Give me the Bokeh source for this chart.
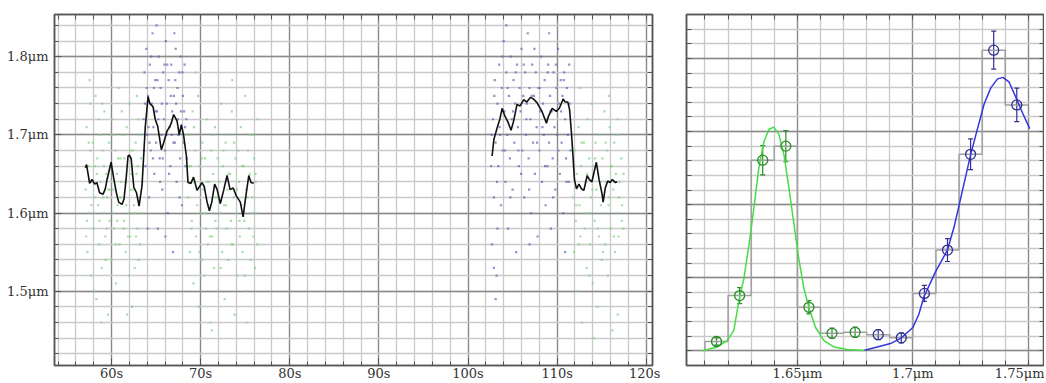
from bokeh.plotting import figure
from bokeh.layouts import row
from bokeh.models import FixedTicker, LinearAxis, Range1d, Whisker, ColumnDataSource, TeeHead
from bokeh.embed import file_html
from bokeh.resources import INLINE

# ---------------- data: left panel (time series) ----------------
x_tick_values = [60, 70, 80, 90, 100, 110, 120]
x_tick_labels = ["60s", "70s", "80s", "90s", "100s", "110s", "120s"]
y_tick_values = [1.5, 1.6, 1.7, 1.8]
y_tick_labels = ["1.5\u03bcm", "1.6\u03bcm", "1.7\u03bcm", "1.8\u03bcm"]

green1_t = [57.1, 57.2, 57.3, 57.4, 57.5, 57.6, 57.7, 57.8, 57.9, 58.0, 58.1, 58.2, 58.3, 58.4, 58.5, 58.6, 58.7, 58.8, 58.9, 59.0,
            59.1, 59.2, 59.3, 59.4, 59.5, 59.6, 59.7, 59.8, 59.9, 60.0, 60.1, 60.2, 60.3, 60.4, 60.5, 60.6, 60.7, 60.8, 60.9, 61.0,
            61.1, 61.2, 61.3, 61.4, 61.5, 61.6, 61.7, 61.8, 61.9, 62.0, 62.1, 62.2, 62.3, 62.4, 62.5, 62.6, 62.7, 62.8, 62.9, 63.0,
            63.1, 63.2, 63.3, 63.4, 57.25, 57.65, 58.15, 58.55, 59.05, 59.45, 59.85, 60.25, 60.65, 61.05, 61.45, 61.85, 62.25, 62.65, 63.05,
            57.15, 57.45, 57.75, 58.05, 58.35, 58.65, 58.95, 59.15, 59.35, 59.65, 59.95, 60.15, 60.45, 60.75, 60.95, 61.15, 61.35,
            61.65, 61.95, 62.15, 62.45, 62.75, 62.95, 63.25, 63.45, 57.55, 58.85, 60.05, 61.75, 62.85]
green1_v = [1.63, 1.71, 1.55, 1.66, 1.60, 1.74, 1.52, 1.64, 1.69, 1.58, 1.62, 1.75, 1.49, 1.67, 1.61, 1.56, 1.70, 1.64, 1.53, 1.68,
            1.60, 1.73, 1.57, 1.65, 1.62, 1.47, 1.69, 1.59, 1.66, 1.54, 1.72, 1.63, 1.58, 1.68, 1.51, 1.65, 1.61, 1.76, 1.56, 1.67,
            1.62, 1.50, 1.70, 1.59, 1.64, 1.55, 1.71, 1.66, 1.60, 1.74, 1.57, 1.63, 1.48, 1.68, 1.61, 1.53, 1.69, 1.65, 1.58, 1.72,
            1.62, 1.56, 1.67, 1.60, 1.59, 1.68, 1.66, 1.72, 1.62, 1.58, 1.63, 1.70, 1.59, 1.64, 1.67, 1.57, 1.65, 1.60, 1.54,
            1.57, 1.69, 1.61, 1.50, 1.65, 1.59, 1.74, 1.66, 1.54, 1.63, 1.70, 1.60, 1.56, 1.67, 1.62, 1.73, 1.58,
            1.61, 1.52, 1.68, 1.63, 1.57, 1.66, 1.70, 1.64, 1.77, 1.46, 1.78, 1.47, 1.75]

blue1_t = [63.6, 63.7, 63.8, 63.9, 64.0, 64.1, 64.2, 64.3, 64.4, 64.5, 64.6, 64.7, 64.8, 64.9, 65.0, 65.1, 65.2, 65.3, 65.4, 65.5,
           65.6, 65.7, 65.8, 65.9, 66.0, 66.1, 66.2, 66.3, 66.4, 66.5, 66.6, 66.7, 66.8, 66.9, 67.0, 67.1, 67.2, 67.3, 67.4, 67.5,
           67.6, 67.7, 67.8, 67.9, 68.0, 68.1, 68.2, 68.3, 68.4, 63.75, 64.25, 64.75, 65.25, 65.75, 66.25, 66.75, 67.25, 67.75, 68.25,
           63.65, 63.95, 64.15, 64.45, 64.65, 64.95, 65.15, 65.45, 65.65, 65.95, 66.15, 66.45, 66.65, 66.95, 67.15, 67.45,
           67.65, 67.95, 68.15, 68.45, 64.05, 65.05, 66.05, 67.05]
blue1_v = [1.72, 1.78, 1.66, 1.81, 1.70, 1.75, 1.62, 1.79, 1.68, 1.74, 1.83, 1.71, 1.65, 1.77, 1.69, 1.73, 1.58, 1.80, 1.67, 1.76,
           1.70, 1.63, 1.78, 1.72, 1.68, 1.82, 1.74, 1.60, 1.77, 1.71, 1.66, 1.79, 1.73, 1.55, 1.75, 1.69, 1.81, 1.64, 1.76, 1.70,
           1.78, 1.67, 1.73, 1.61, 1.75, 1.69, 1.79, 1.66, 1.72, 1.74, 1.69, 1.76, 1.72, 1.67, 1.79, 1.70, 1.74, 1.80, 1.71,
           1.68, 1.76, 1.71, 1.80, 1.67, 1.73, 1.77, 1.64, 1.74, 1.79, 1.70, 1.65, 1.75, 1.69, 1.77, 1.72,
           1.62, 1.78, 1.73, 1.67, 1.58, 1.84, 1.57, 1.83]

green2_t = [68.6, 68.7, 68.8, 68.9, 69.0, 69.1, 69.2, 69.3, 69.4, 69.5, 69.6, 69.7, 69.8, 69.9, 70.0, 70.1, 70.2, 70.3, 70.4, 70.5,
            70.6, 70.7, 70.8, 70.9, 71.0, 71.1, 71.2, 71.3, 71.4, 71.5, 71.6, 71.7, 71.8, 71.9, 72.0, 72.1, 72.2, 72.3, 72.4, 72.5,
            72.6, 72.7, 72.8, 72.9, 73.0, 73.1, 73.2, 73.3, 73.4, 73.5, 73.6, 73.7, 73.8, 73.9, 74.0, 74.1, 74.2, 74.3, 74.4, 74.5,
            74.6, 74.7, 74.8, 74.9, 75.0, 75.1, 75.2, 75.3, 75.4, 75.5, 75.6, 75.7, 75.8, 75.9, 76.0, 76.1, 76.2, 76.3, 76.4,
            68.65, 68.95, 69.25, 69.55, 69.85, 70.15, 70.45, 70.75, 71.05, 71.35, 71.65, 71.95, 72.25, 72.55, 72.85, 73.15,
            73.45, 73.75, 74.05, 74.35, 74.65, 74.95, 75.25, 75.55, 75.85, 76.15, 76.35, 69.45, 71.25, 73.55, 75.15]
green2_v = [1.62, 1.70, 1.55, 1.66, 1.59, 1.73, 1.51, 1.64, 1.68, 1.57, 1.61, 1.75, 1.48, 1.66, 1.60, 1.54, 1.69, 1.63, 1.52, 1.67,
            1.58, 1.72, 1.56, 1.64, 1.61, 1.46, 1.68, 1.57, 1.65, 1.53, 1.71, 1.62, 1.58, 1.67, 1.50, 1.64, 1.60, 1.74, 1.55, 1.66,
            1.61, 1.49, 1.69, 1.58, 1.63, 1.54, 1.70, 1.65, 1.59, 1.73, 1.56, 1.62, 1.47, 1.67, 1.60, 1.52, 1.68, 1.64, 1.57, 1.71,
            1.61, 1.55, 1.66, 1.59, 1.75, 1.63, 1.50, 1.68, 1.58, 1.65, 1.54, 1.70, 1.62, 1.57, 1.67, 1.53, 1.64, 1.60, 1.72,
            1.66, 1.58, 1.71, 1.63, 1.55, 1.67, 1.60, 1.64, 1.57, 1.70, 1.59, 1.62, 1.53, 1.68, 1.61, 1.65,
            1.56, 1.69, 1.63, 1.59, 1.66, 1.52, 1.62, 1.70, 1.60, 1.65, 1.56, 1.78, 1.45, 1.77, 1.46]

blue2_t = [102.6, 102.7, 102.8, 102.9, 103.0, 103.1, 103.2, 103.3, 103.4, 103.5, 103.6, 103.7, 103.8, 103.9, 104.0, 104.1, 104.2,
           104.3, 104.4, 104.5, 104.6, 104.7, 104.8, 104.9, 105.0, 105.1, 105.2, 105.3, 105.4, 105.5, 105.6, 105.7, 105.8, 105.9,
           106.0, 106.1, 106.2, 106.3, 106.4, 106.5, 106.6, 106.7, 106.8, 106.9, 107.0, 107.1, 107.2, 107.3, 107.4, 107.5, 107.6,
           107.7, 107.8, 107.9, 108.0, 108.1, 108.2, 108.3, 108.4, 108.5, 108.6, 108.7, 108.8, 108.9, 109.0, 109.1, 109.2, 109.3,
           109.4, 109.5, 109.6, 109.7, 109.8, 109.9, 110.0, 110.1, 110.2, 110.3, 110.4, 110.5, 110.6, 110.7, 110.8, 110.9, 111.0,
           111.1, 111.2, 111.3, 111.4, 111.5, 102.9, 103.1, 103.3,
           102.65, 102.95, 103.25, 103.55, 103.85, 104.15, 104.45, 104.75, 105.05, 105.35, 105.65, 105.95, 106.25, 106.55,
           106.85, 107.15, 107.45, 107.75, 108.05, 108.35, 108.65, 108.95, 109.25, 109.55, 109.85, 110.15, 110.45, 110.75,
           111.05, 111.35, 104.3, 106.9, 109.1, 110.9]
blue2_v = [1.66, 1.56, 1.72, 1.62, 1.77, 1.69, 1.52, 1.74, 1.66, 1.79, 1.70, 1.61, 1.76, 1.68, 1.82, 1.73, 1.64,
           1.78, 1.70, 1.58, 1.75, 1.67, 1.80, 1.72, 1.63, 1.77, 1.69, 1.74, 1.55, 1.79, 1.71, 1.66, 1.76, 1.73,
           1.81, 1.68, 1.75, 1.62, 1.78, 1.70, 1.74, 1.83, 1.67, 1.76, 1.72, 1.60, 1.79, 1.69, 1.75, 1.65, 1.78,
           1.71, 1.57, 1.76, 1.68, 1.73, 1.80, 1.64, 1.74, 1.70, 1.77, 1.61, 1.72, 1.66, 1.79, 1.69, 1.75, 1.58,
           1.73, 1.67, 1.78, 1.71, 1.63, 1.76, 1.70, 1.81, 1.74, 1.65, 1.77, 1.69, 1.75, 1.60, 1.78, 1.72, 1.67,
           1.76, 1.70, 1.64, 1.74, 1.68, 1.53, 1.49, 1.58,
           1.70, 1.75, 1.64, 1.71, 1.80, 1.68, 1.76, 1.62, 1.73, 1.78, 1.68, 1.65, 1.79, 1.72,
           1.63, 1.75, 1.81, 1.69, 1.76, 1.71, 1.66, 1.78, 1.73, 1.62, 1.79, 1.68, 1.73, 1.77,
           1.64, 1.79, 1.84, 1.56, 1.83, 1.55]

green3_t = [111.8, 111.9, 112.0, 112.1, 112.2, 112.3, 112.4, 112.5, 112.6, 112.7, 112.8, 112.9, 113.0, 113.1, 113.2, 113.3,
            113.4, 113.5, 113.6, 113.7, 113.8, 113.9, 114.0, 114.1, 114.2, 114.3, 114.4, 114.5, 114.6, 114.7, 114.8, 114.9,
            115.0, 115.1, 115.2, 115.3, 115.4, 115.5, 115.6, 115.7, 115.8, 115.9, 116.0, 116.1, 116.2, 116.3, 116.4, 116.5,
            116.6, 116.7, 116.8, 116.9, 117.0, 117.1, 117.2, 117.3, 117.4,
            111.85, 112.15, 112.45, 112.75, 113.05, 113.35, 113.65, 113.95, 114.25, 114.55, 114.85, 115.15, 115.45, 115.75,
            116.05, 116.35, 116.65, 116.95, 117.25, 117.45, 112.6, 114.1, 115.8, 116.8]
green3_v = [1.62, 1.55, 1.68, 1.59, 1.65, 1.50, 1.71, 1.61, 1.57, 1.66, 1.46, 1.63, 1.69, 1.58, 1.64, 1.53,
            1.72, 1.60, 1.67, 1.56, 1.62, 1.74, 1.51, 1.66, 1.59, 1.69, 1.63, 1.48, 1.65, 1.57, 1.70, 1.61,
            1.54, 1.67, 1.60, 1.73, 1.56, 1.64, 1.68, 1.52, 1.62, 1.71, 1.58, 1.66, 1.45, 1.63, 1.69, 1.55,
            1.65, 1.60, 1.72, 1.57, 1.64, 1.50, 1.67, 1.61, 1.58,
            1.66, 1.61, 1.56, 1.69, 1.60, 1.65, 1.52, 1.63, 1.67, 1.58, 1.64, 1.55, 1.69, 1.61,
            1.66, 1.57, 1.70, 1.62, 1.59, 1.65, 1.76, 1.44, 1.75, 1.47]

line1_t = [57.06, 57.2, 57.54, 57.8, 58.1, 58.35, 58.66, 59.05, 59.3, 59.5, 59.95, 60.24, 60.54, 60.8, 61.18, 61.4, 61.63,
           61.85, 62.0, 62.2, 62.5, 62.8, 63.09, 63.42, 63.79, 64.1, 64.3, 64.66, 64.9, 65.18, 65.59, 65.85, 66.23, 66.5,
           66.7, 66.97, 67.35, 67.6, 67.83, 68.08, 68.4, 68.58, 68.9, 69.2, 69.6, 70.15, 70.4, 70.72, 70.98, 71.25, 71.57,
           71.85, 72.2, 72.58, 72.96, 73.3, 73.65, 74.0, 74.45, 74.76, 75.0, 75.4, 75.65, 75.95]
line1_v = [1.658, 1.662, 1.638, 1.643, 1.637, 1.639, 1.626, 1.624, 1.631, 1.643, 1.665, 1.645, 1.626, 1.614, 1.611, 1.618, 1.643,
           1.673, 1.674, 1.670, 1.633, 1.626, 1.609, 1.635, 1.711, 1.749, 1.740, 1.736, 1.720, 1.711, 1.681, 1.690, 1.705, 1.710,
           1.715, 1.726, 1.718, 1.700, 1.713, 1.700, 1.673, 1.639, 1.638, 1.646, 1.629, 1.639, 1.634, 1.614, 1.603, 1.614, 1.637,
           1.630, 1.612, 1.629, 1.648, 1.630, 1.632, 1.622, 1.614, 1.595, 1.616, 1.648, 1.639, 1.638]

line2_t = [102.7, 102.9, 103.27, 103.57, 103.83, 104.1, 104.46, 104.83, 105.1, 105.5, 105.85, 106.25, 106.6, 107.0, 107.35,
           107.75, 108.3, 108.8, 109.0, 109.44, 109.9, 110.25, 110.67, 110.9, 111.2, 111.4, 111.6, 111.8, 111.94, 112.17,
           112.45, 112.73, 113.0, 113.37, 113.6, 113.9, 114.4, 114.7, 115.05, 115.16, 115.4, 115.68, 115.95, 116.2, 116.54, 116.73]
line2_v = [1.673, 1.694, 1.709, 1.720, 1.734, 1.725, 1.717, 1.706, 1.717, 1.739, 1.737, 1.745, 1.742, 1.748, 1.746,
           1.741, 1.730, 1.715, 1.723, 1.734, 1.730, 1.734, 1.746, 1.742, 1.742, 1.732, 1.703, 1.669, 1.643, 1.631,
           1.637, 1.631, 1.629, 1.648, 1.643, 1.640, 1.665, 1.643, 1.624, 1.614, 1.632, 1.641, 1.639, 1.643, 1.639, 1.640]

# ---------------- data: right panel (spectrum) ----------------
wl_tick_values = [1.65, 1.7, 1.75]
wl_tick_labels = ["1.65\u03bcm", "1.7\u03bcm", "1.75\u03bcm"]

green_wl = [1.615, 1.625, 1.635, 1.645, 1.655, 1.665, 1.675]
green_flux = [0.64, 3.78, 13.04, 14.0, 2.98, 1.2, 1.27]
green_err = [0.25, 0.55, 1.0, 1.07, 0.45, 0.35, 0.35]
blue_wl = [1.685, 1.695, 1.705, 1.715, 1.725, 1.735, 1.745]
blue_flux = [1.11, 0.89, 3.93, 6.89, 13.44, 20.56, 16.82]
blue_err = [0.35, 0.35, 0.55, 0.78, 1.05, 1.3, 1.15]

green_curve_x = [1.6088, 1.6153, 1.6196, 1.6225, 1.625, 1.6268, 1.629, 1.6312, 1.6333, 1.6355, 1.6377, 1.6398,
                 1.642, 1.6442, 1.6463, 1.6485, 1.6506, 1.6528, 1.6553, 1.6579, 1.6615, 1.6658, 1.6716, 1.6791]
green_curve_y = [0.0, 0.27, 0.7, 1.4, 3.7, 4.9, 7.2, 9.8, 12.5, 14.3, 15.15, 15.3,
                 14.8, 13.4, 11.2, 8.7, 6.3, 4.3, 2.8, 1.6, 0.7, 0.27, 0.09, 0.02]
blue_curve_x = [1.6791, 1.6846, 1.6903, 1.6947, 1.70, 1.7026, 1.7048, 1.7098, 1.715, 1.7179, 1.7208, 1.725, 1.728,
                1.7309, 1.7338, 1.7367, 1.739, 1.7416, 1.745, 1.7474, 1.7506]
blue_curve_y = [0.04, 0.27, 0.5, 0.85, 1.6, 2.5, 3.7, 5.4, 6.9, 8.5, 10.5, 13.4, 15.2,
                16.9, 18.0, 18.6, 18.7, 18.4, 17.2, 16.3, 15.2]

# ---------------- styling helpers ----------------
FONT = "DejaVu Serif"
AX = "#555555"
MINOR_GRID = "#c9c9c9"
MAJOR_GRID = "#8a8a8a"


def style_axis(ax, tin=7, mtin=4, standoff=1):
    ax.axis_line_color = AX
    ax.axis_line_width = 1.5
    ax.major_tick_line_color = AX
    ax.minor_tick_line_color = AX
    ax.major_tick_in = tin
    ax.major_tick_out = 0
    ax.minor_tick_in = mtin
    ax.minor_tick_out = 0
    ax.major_label_text_font = FONT
    ax.major_label_text_font_size = "13px"
    ax.major_label_text_color = "#333333"
    ax.major_label_standoff = standoff


def tick_only_axis(minor, length):
    # axis carrying tick marks only (no major ticks -> no labels)
    ax = LinearAxis(ticker=FixedTicker(ticks=[], minor_ticks=minor))
    ax.axis_line_color = AX
    ax.axis_line_width = 1.5
    ax.minor_tick_line_color = AX
    ax.minor_tick_in = length
    ax.minor_tick_out = 0
    ax.major_tick_in = 0
    ax.major_tick_out = 0
    ax.major_label_standoff = 0
    return ax


H = 383

# ---------------- left figure ----------------
x1_minor = list(range(54, 121, 2))
y1_minor = [round(1.42 + 0.02 * i, 2) for i in range(22)]

p1 = figure(width=660, height=H, output_backend="svg", toolbar_location=None,
            x_range=Range1d(53.6, 120.7), y_range=Range1d(1.405, 1.854),
            min_border_left=54, min_border_right=8, min_border_top=14, min_border_bottom=14)
p1.outline_line_color = AX
p1.outline_line_width = 1.5

xt1 = FixedTicker(ticks=x_tick_values, minor_ticks=x1_minor)
yt1 = FixedTicker(ticks=y_tick_values, minor_ticks=y1_minor)
p1.xaxis.ticker = xt1
p1.yaxis.ticker = yt1
p1.xaxis.major_label_overrides = dict(zip(x_tick_values, x_tick_labels))
p1.yaxis.major_label_overrides = dict(zip(y_tick_values, y_tick_labels))
style_axis(p1.xaxis[0], standoff=0)
style_axis(p1.yaxis[0], standoff=6)
p1.add_layout(tick_only_axis(x1_minor, 5), "above")
p1.add_layout(tick_only_axis(y1_minor, 5), "right")

p1.xgrid.ticker = xt1
p1.ygrid.ticker = yt1
for g in (p1.xgrid[0], p1.ygrid[0]):
    g.grid_line_color = MAJOR_GRID
    g.grid_line_width = 1.3
    g.minor_grid_line_color = MINOR_GRID
    g.minor_grid_line_width = 1.3

GREEN_DOT = "#84d284"
BLUE_DOT = "#6464b4"
for tt, vv, col in ((green1_t, green1_v, GREEN_DOT), (green2_t, green2_v, GREEN_DOT), (green3_t, green3_v, GREEN_DOT),
                    (blue1_t, blue1_v, BLUE_DOT), (blue2_t, blue2_v, BLUE_DOT)):
    p1.scatter(tt, vv, marker="square", size=2.2, fill_color=col, line_color=None, fill_alpha=0.7)

p1.line(line1_t, line1_v, line_color="#111111", line_width=1.6)
p1.line(line2_t, line2_v, line_color="#111111", line_width=1.6)

# ---------------- right figure ----------------
x2_minor = [round(1.61 + 0.01 * i, 2) for i in range(15)]
y2_minor = list(range(0, 24))

p2 = figure(width=384, height=H, output_backend="svg", toolbar_location=None,
            x_range=Range1d(1.602, 1.757), y_range=Range1d(-1.0, 23.0),
            min_border_left=26, min_border_right=0, min_border_top=9, min_border_bottom=14)
p2.outline_line_color = AX
p2.outline_line_width = 1.5

xt2 = FixedTicker(ticks=wl_tick_values, minor_ticks=x2_minor)
yt2 = FixedTicker(ticks=[0, 5, 10, 15, 20], minor_ticks=y2_minor)
p2.xaxis.ticker = xt2
p2.xaxis.major_label_overrides = dict(zip(wl_tick_values, wl_tick_labels))
style_axis(p2.xaxis[0], tin=5, mtin=5, standoff=0)
p2.yaxis.visible = False
p2.add_layout(tick_only_axis(y2_minor, 5), "left")
p2.add_layout(tick_only_axis(x2_minor, 5), "above")
p2.add_layout(tick_only_axis(y2_minor, 5), "right")

p2.xgrid.ticker = xt2
p2.ygrid.ticker = yt2
for g in (p2.xgrid[0], p2.ygrid[0]):
    g.grid_line_color = MAJOR_GRID
    g.grid_line_width = 1.3
    g.minor_grid_line_color = MINOR_GRID
    g.minor_grid_line_width = 1.3

# histogram steps (bins centred on data points)
all_wl = green_wl + blue_wl
all_flux = green_flux + blue_flux
step_x = [all_wl[0] - 0.005] + [w - 0.005 for w in all_wl] + [all_wl[-1] + 0.005]
step_y = [0.0] + all_flux + [all_flux[-1]]
p2.step(step_x, step_y, mode="after", line_color="#a0a0a0", line_width=1.5)

p2.line(green_curve_x, green_curve_y, line_color="#44dd44", line_width=1.5)
p2.line(blue_curve_x, blue_curve_y, line_color="#3535e0", line_width=1.5)

for wl, fl, er, col in ((green_wl, green_flux, green_err, "#2a8a2a"), (blue_wl, blue_flux, blue_err, "#303090")):
    src = ColumnDataSource(dict(x=wl, y=fl, lo=[f - e for f, e in zip(fl, er)], up=[f + e for f, e in zip(fl, er)]))
    w = Whisker(source=src, base="x", upper="up", lower="lo", line_color=col, line_width=1.2,
                upper_head=TeeHead(size=5, line_color=col, line_width=1.2),
                lower_head=TeeHead(size=5, line_color=col, line_width=1.2))
    p2.add_layout(w)
    p2.scatter("x", "y", source=src, marker="circle", size=10, fill_color=None, line_color=col, line_width=1.3)

layout = row(p1, p2)
open("out.html", "w").write(file_html(layout, INLINE))
